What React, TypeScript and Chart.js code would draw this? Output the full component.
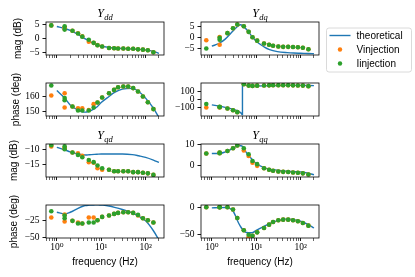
import React, { useEffect, useRef } from 'react';
import { Chart, registerables } from 'chart.js';

Chart.register(...registerables);

// ---------------- data ----------------
const F_MEAS = [0.75, 1.5, 1.5, 2.25, 3, 3.75, 5.25, 6.75, 8.25, 10.5, 15, 19.5, 24, 31.5, 40.5, 52.5, 67.5, 87, 112.5, 150];
const F_THEORY = [1, 1.5, 2, 3, 4, 4.5, 5, 6, 8, 10, 15, 20, 30, 50, 70, 100, 150, 200];
const F_THEORY_DQ_PHASE = [1, 1.5, 2, 3, 4, 4.5, 4.8, 4.8, 5, 6, 8, 10, 15, 20, 30, 50, 70, 100, 150, 200];

// Y_dd magnitude (dB)
const YDD_MAG_TH = [4.3, 3.6, 2.9, 1.5, 0.3, -0.2, -0.6, -1.3, -2.1, -2.6, -3.1, -3.3, -3.5, -3.7, -3.8, -4.0, -4.5, -5.2];
const YDD_MAG_V = [4.7, 4.0, 3.4, 2.8, 1.9, 0.8, -1.1, -1.5, -2.3, -2.8, -3.3, -3.4, -3.5, -3.5, -3.6, -3.6, -3.8, -3.9, -4.1, -4.8];
const YDD_MAG_I = [4.7, 4.35, 3.2, 2.8, 1.8, 0.7, -0.4, -1.5, -2.35, -2.8, -3.3, -3.4, -3.5, -3.5, -3.6, -3.6, -3.8, -3.9, -4.1, -4.8];

// Y_dq magnitude (dB)
const YDQ_MAG_TH = [-4.1, -2.6, -0.8, 3.0, 5.5, 5.9, 5.2, 3.8, 0.5, -1.8, -4.4, -5.7, -6.6, -7.1, -7.3, -7.4, -7.5, -7.6];
const YDQ_MAG_V = [-1.3, 0.2, -3.4, 2.0, 4.3, 6.0, 5.2, 2.6, 0.1, -1.5, -2.8, -3.4, -3.9, -4.2, -4.4, -4.4, -4.5, -4.6, -4.8, -5.5];
const YDQ_MAG_I = [-5.2, -0.2, -1.1, 2.0, 4.3, 6.0, 5.2, 2.6, 0.1, -1.5, -2.8, -3.4, -3.9, -4.2, -4.4, -4.4, -4.5, -4.6, -4.8, -5.5];

// Y_dd phase (deg)
const YDD_PH_TH = [164, 159, 154.4, 151, 149.6, 149.6, 150, 150.8, 153, 156, 160, 162.7, 164.9, 165.4, 163.3, 158.9, 152.2, 146];
const YDD_PH_V = [160.7, 162.2, 152.7, 153.3, 152.2, 152.2, 151, 154.9, 156, 159.3, 162.2, 164.4, 166.2, 166.7, 166.7, 165.6, 163.3, 160, 156.2, 151.6];
const YDD_PH_I = [167.3, 159, 157.5, 153.3, 150.7, 150.7, 150.7, 152.7, 156, 159.3, 162.2, 164.4, 166.2, 166.7, 166.7, 165.6, 163.3, 160, 156.2, 151.6];

// Y_dq phase (deg)
const YDQ_PH_TH = [-65, -80, -94, -115, -140, -160, -180, 180, 177, 170, 164, 162, 163, 165, 167, 169, 169, 169, 168, 167];
const YDQ_PH_V = [-96, -90, -95, -108, -129, -152, 183, 167, 163, 166, 168, 170, 172, 172, 172, 172, 170, 168, 167, 160];
const YDQ_PH_I = [-54, -87, -92, -108, -129, -152, 183, 167, 163, 166, 168, 170, 172, 172, 172, 172, 170, 168, 167, 160];

// Y_qd magnitude (dB)
const YQD_MAG_TH = [-9.2, -10, -10.7, -11.4, -11.7, -11.75, -11.7, -11.6, -11.5, -11.4, -11.4, -11.4, -11.4, -11.6, -12, -12.5, -13.4, -14.2];
const YQD_MAG_V = [-8.9, -9.3, -9.6, -10.9, -11.2, -12.0, -14.1, -14.3, -16.1, -16.6, -16.6, -17.1, -17.1, -17.1, -17.1, -17.4, -17.4, -17.6, -17.8, -18.3];
const YQD_MAG_I = [-8.5, -8.9, -9.8, -10.9, -11.7, -12.5, -13.4, -14.1, -15.2, -16.1, -16.6, -17.1, -17.1, -17.1, -17.1, -17.4, -17.4, -17.6, -17.8, -18.3];

// Y_qq magnitude (dB)
const YQQ_MAG_TH = [5.8, 5.8, 6.5, 8.2, 9.5, 9.4, 8.9, 6.2, 3.1, 1.1, -0.8, -1.5, -2.0, -2.5, -2.7, -2.8, -3.4, -4.2];
const YQQ_MAG_V = [5.8, 6.2, 5.9, 6.9, 8.2, 9.5, 7.2, 4.6, 1.5, 0.0, -1.1, -1.8, -2.3, -2.6, -2.8, -2.9, -3.1, -3.2, -3.5, -4.0];
const YQQ_MAG_I = [5.8, 6.2, 5.9, 6.9, 8.2, 9.5, 8.2, 5.4, 2.3, 0.8, -1.1, -1.8, -2.3, -2.6, -2.8, -2.9, -3.1, -3.2, -3.5, -4.0];

// Y_qd phase (deg)
const YQD_PH_TH = [-12, -14.5, -12, -6, -2.5, -1.8, -1.3, -0.8, -0.5, -0.8, -2.6, -4.5, -7.8, -13, -18, -25, -40, -54];
const YQD_PH_V = [-20, -15.5, -26, -25, -27.5, -29, -20, -20, -24, -19, -17, -14.5, -13, -12, -12, -13, -17, -21, -24, -27.5];
const YQD_PH_I = [-10.5, -17, -21, -25, -29, -29, -27.5, -27.5, -24, -19, -17, -14.5, -13, -12, -12, -13, -16, -21, -24, -27.5];

// Y_qq phase (deg)
const YQQ_PH_TH = [-1.2, -0.8, -0.6, -7, -28.7, -36, -41, -46, -46.5, -42, -34.8, -30, -24.4, -21.3, -22.6, -25.6, -31.7, -37.8];
const YQQ_PH_V = [0, 0, 0, 0, -4.3, -19.5, -42, -54, -52, -45.7, -37.8, -31.7, -26.8, -23.8, -22.6, -22.6, -23.8, -25.6, -28.7, -33.5];
const YQQ_PH_I = [0, 0, 0, 0, -4.3, -19.5, -42, -50, -52, -45.7, -37.8, -31.7, -26.8, -23.8, -22.6, -22.6, -23.8, -25.6, -28.7, -33.5];

// tick values
const X_MAJOR = [1, 10, 100];
const X_MINOR = [0.6, 0.7, 0.8, 0.9, 2, 3, 4, 5, 6, 7, 8, 9, 20, 30, 40, 50, 60, 70, 80, 90, 200];
const X_MAJOR_LABELS = ['10\u2070', '10\u00b9', '10\u00b2'];
const YDD_MAG_TICKS = [-5, 0, 5];
const YDQ_MAG_TICKS = [-5, 0, 5];
const YDD_PH_TICKS = [150, 160];
const YDQ_PH_TICKS = [-100, 0, 100];
const YQD_MAG_TICKS = [-15, -10];
const YQQ_MAG_TICKS = [0, 10];
const YQD_PH_TICKS = [-50, -25];
const YQQ_PH_TICKS = [-50, 0];

const SERIES_LABELS = ['theoretical', 'Vinjection', 'Iinjection'];

// ---------------- styling / layout ----------------
const BLUE = '#1f77b4';
const ORANGE = '#ff7f0e';
const GREEN = '#2ca02c';
const SERIF = '"Liberation Serif", "DejaVu Serif", serif';
const SANS = '"Liberation Sans", "DejaVu Sans", sans-serif';
const X_MIN = 0.57;
const X_MAX = 260;
const COL_LEFT = [46, 201];
const ROW_TOP = [22, 83, 144, 205];
const PLOT_W = 118;
const PLOT_H = 33;
const Y_AXIS_W = 45;
const TOP_PAD = 20;

type PanelDef = {
  row: number; col: number; sub: string; ylabel: string; ylabelPad: number;
  fth: number[]; th: number[]; v: number[]; i: number[]; ticks: number[];
  min: number; max: number; jump?: boolean;
};

const PANELS: PanelDef[] = [
  { row: 0, col: 0, sub: 'dd', ylabel: 'mag (dB)', ylabelPad: 11, fth: F_THEORY, th: YDD_MAG_TH, v: YDD_MAG_V, i: YDD_MAG_I, ticks: YDD_MAG_TICKS, min: -5.8, max: 5.9 },
  { row: 0, col: 1, sub: 'dq', ylabel: '', ylabelPad: 0, fth: F_THEORY, th: YDQ_MAG_TH, v: YDQ_MAG_V, i: YDQ_MAG_I, ticks: YDQ_MAG_TICKS, min: -8.2, max: 7.2 },
  { row: 1, col: 0, sub: '', ylabel: 'phase (deg)', ylabelPad: 9, fth: F_THEORY, th: YDD_PH_TH, v: YDD_PH_V, i: YDD_PH_I, ticks: YDD_PH_TICKS, min: 147, max: 169 },
  { row: 1, col: 1, sub: '', ylabel: '', ylabelPad: 0, fth: F_THEORY_DQ_PHASE, th: YDQ_PH_TH, v: YDQ_PH_V, i: YDQ_PH_I, ticks: YDQ_PH_TICKS, min: -198, max: 198, jump: true },
  { row: 2, col: 0, sub: 'qd', ylabel: 'mag (dB)', ylabelPad: 7, fth: F_THEORY, th: YQD_MAG_TH, v: YQD_MAG_V, i: YQD_MAG_I, ticks: YQD_MAG_TICKS, min: -19, max: -8.1 },
  { row: 2, col: 1, sub: 'qq', ylabel: '', ylabelPad: 0, fth: F_THEORY, th: YQQ_MAG_TH, v: YQQ_MAG_V, i: YQQ_MAG_I, ticks: YQQ_MAG_TICKS, min: -5.2, max: 10.2 },
  { row: 3, col: 0, sub: '', ylabel: 'phase (deg)', ylabelPad: 7, fth: F_THEORY, th: YQD_PH_TH, v: YQD_PH_V, i: YQD_PH_I, ticks: YQD_PH_TICKS, min: -51, max: -1 },
  { row: 3, col: 1, sub: '', ylabel: '', ylabelPad: 0, fth: F_THEORY, th: YQQ_PH_TH, v: YQQ_PH_V, i: YQQ_PH_I, ticks: YQQ_PH_TICKS, min: -56, max: 4 },
];

function fmt(v: number): string {
  return v < 0 ? '\u2212' + Math.abs(v) : String(v);
}

function Panel({ p }: { p: PanelDef }) {
  const ref = useRef<HTMLCanvasElement>(null);
  const isBottom = p.row === 3;
  const isLegend = p.row === 0 && p.col === 1;
  const padRight = isLegend ? 415 - (COL_LEFT[1] + PLOT_W) : 5;
  const bottomH = isBottom ? 30 : 8;
  const extraBottom = isBottom ? 0 : 20;
  const W = Y_AXIS_W + PLOT_W + padRight;
  const H = TOP_PAD + PLOT_H + bottomH + extraBottom;
  const left = COL_LEFT[p.col] - Y_AXIS_W;
  const top = ROW_TOP[p.row] - TOP_PAD;

  useEffect(() => {
    if (!ref.current) return;
    const framePlugin = {
      id: 'frame',
      afterDatasetsDraw(chart: any) {
        const { ctx, chartArea: a } = chart;
        ctx.save();
        ctx.strokeStyle = '#000';
        ctx.lineWidth = 0.8;
        ctx.strokeRect(a.left, a.top, a.right - a.left, a.bottom - a.top);
        ctx.restore();
      },
    };
    const titlePlugin = {
      id: 'subtitleY',
      afterDraw(chart: any) {
        if (!p.sub) return;
        const { ctx, chartArea: a } = chart;
        ctx.save();
        ctx.fillStyle = '#000';
        ctx.textBaseline = 'alphabetic';
        ctx.font = `italic 12px ${SERIF}`;
        const wY = ctx.measureText('Y').width;
        ctx.font = `italic 8.5px ${SERIF}`;
        const wS = ctx.measureText(p.sub).width;
        const x0 = (a.left + a.right) / 2 - (wY + wS + 0.5) / 2;
        const yb = a.top - 5;
        ctx.font = `italic 12px ${SERIF}`;
        ctx.fillText('Y', x0, yb);
        ctx.font = `italic 8.5px ${SERIF}`;
        ctx.fillText(p.sub, x0 + wY + 0.5, yb + 2.5);
        ctx.restore();
      },
    };
    const legendPlugin = {
      id: 'legendBox',
      afterDraw(chart: any) {
        const { ctx, chartArea: a } = chart;
        const ds = chart.data.datasets;
        const bx = a.right + 7.5;
        const by = a.top + 6;
        const bw = 85;
        const bh = 44;
        ctx.save();
        ctx.beginPath();
        const r = 2.5;
        ctx.moveTo(bx + r, by);
        ctx.lineTo(bx + bw - r, by);
        ctx.arcTo(bx + bw, by, bx + bw, by + r, r);
        ctx.lineTo(bx + bw, by + bh - r);
        ctx.arcTo(bx + bw, by + bh, bx + bw - r, by + bh, r);
        ctx.lineTo(bx + r, by + bh);
        ctx.arcTo(bx, by + bh, bx, by + bh - r, r);
        ctx.lineTo(bx, by + r);
        ctx.arcTo(bx, by, bx + r, by, r);
        ctx.closePath();
        ctx.fillStyle = 'rgba(255,255,255,0.8)';
        ctx.fill();
        ctx.strokeStyle = '#d0d0d0';
        ctx.lineWidth = 0.8;
        ctx.stroke();
        ctx.font = `10px ${SANS}`;
        ctx.textBaseline = 'middle';
        ctx.textAlign = 'left';
        ds.forEach((d: any, k: number) => {
          const yy = by + 7.5 + k * 14;
          if (k === 0) {
            ctx.strokeStyle = d.borderColor;
            ctx.lineWidth = 1.4;
            ctx.beginPath();
            ctx.moveTo(bx + 3, yy);
            ctx.lineTo(bx + 24, yy);
            ctx.stroke();
          } else {
            ctx.fillStyle = d.backgroundColor;
            ctx.beginPath();
            ctx.arc(bx + 13.5, yy, 2.2, 0, Math.PI * 2);
            ctx.fill();
          }
          ctx.fillStyle = '#000';
          ctx.fillText(d.label, bx + 30, yy + 0.5);
        });
        ctx.restore();
      },
    };

    const tickFont = { family: SERIF, size: 9.5 };
    const labelFont = { family: SANS, size: 10, lineHeight: 1.2 };
    const chart = new Chart(ref.current, {
      type: 'scatter',
      data: {
        datasets: [
          {
            label: SERIES_LABELS[0],
            data: p.fth.map((x, k) => ({ x, y: p.th[k] })),
            showLine: true,
            borderColor: BLUE,
            backgroundColor: BLUE,
            borderWidth: 1.4,
            pointRadius: 0,
            tension: 0,
            cubicInterpolationMode: p.jump ? 'default' : 'monotone',
            order: 3,
          },
          {
            label: SERIES_LABELS[1],
            data: F_MEAS.map((x, k) => ({ x, y: p.v[k] })),
            showLine: false,
            backgroundColor: ORANGE,
            borderColor: ORANGE,
            pointRadius: 2.3,
            pointBorderWidth: 0,
            order: 2,
          },
          {
            label: SERIES_LABELS[2],
            data: F_MEAS.map((x, k) => ({ x, y: p.i[k] })),
            showLine: false,
            backgroundColor: GREEN,
            borderColor: GREEN,
            pointRadius: 2.3,
            pointBorderWidth: 0,
            order: 1,
          },
        ],
      } as any,
      options: {
        animation: false,
        responsive: false,
        maintainAspectRatio: false,
        layout: { padding: { left: 0, top: TOP_PAD, right: padRight, bottom: extraBottom } },
        plugins: {
          legend: { display: false },
          tooltip: { enabled: false },
          title: { display: false },
        },
        scales: {
          x: {
            type: 'logarithmic',
            position: 'bottom',
            min: X_MIN,
            max: X_MAX,
            afterBuildTicks: (s: any) => {
              s.ticks = [...X_MAJOR, ...X_MINOR]
                .sort((a, b) => a - b)
                .map((v) => ({ value: v, major: X_MAJOR.includes(v) }));
            },
            afterFit: (s: any) => {
              s.height = bottomH;
            },
            ticks: {
              autoSkip: false,
              maxRotation: 0,
              minRotation: 0,
              padding: 1,
              font: tickFont,
              color: '#000',
              callback: (v: any) => {
                const idx = X_MAJOR.indexOf(Number(v));
                return isBottom && idx >= 0 ? X_MAJOR_LABELS[idx] : '';
              },
            },
            grid: {
              drawOnChartArea: false,
              drawTicks: true,
              tickLength: 3,
              tickColor: '#000',
              tickWidth: (c: any) => (c.tick && X_MAJOR.includes(c.tick.value) ? 0.9 : 0.6),
            },
            border: { display: false },
            title: {
              display: isBottom,
              text: 'frequency (Hz)',
              font: labelFont,
              color: '#000',
              padding: 0,
            },
          },
          y: {
            type: 'linear',
            min: p.min,
            max: p.max,
            afterBuildTicks: (s: any) => {
              s.ticks = p.ticks.map((v) => ({ value: v }));
            },
            afterFit: (s: any) => {
              s.width = Y_AXIS_W;
            },
            ticks: {
              padding: 3,
              font: tickFont,
              color: '#000',
              callback: (v: any) => fmt(Number(v)),
            },
            grid: {
              drawOnChartArea: false,
              drawTicks: true,
              tickLength: 3.5,
              tickColor: '#000',
              tickWidth: 0.9,
            },
            border: { display: false },
            title: {
              display: p.col === 0,
              text: p.ylabel,
              font: labelFont,
              color: '#000',
              padding: { top: p.ylabelPad, bottom: 0 },
            },
          },
        },
      } as any,
      plugins: isLegend ? [framePlugin, titlePlugin, legendPlugin] : [framePlugin, titlePlugin],
    });
    return () => chart.destroy();
  }, []);

  return (
    <canvas
      ref={ref}
      width={W}
      height={H}
      style={{ position: 'absolute', left, top, width: W, height: H }}
    />
  );
}

export default function App() {
  useEffect(() => {
    document.body.style.margin = '0';
  }, []);
  return (
    <div style={{ position: 'relative', width: 415, height: 277, background: '#fff', overflow: 'hidden' }}>
      {PANELS.map((p, k) => (
        <Panel key={k} p={p} />
      ))}
    </div>
  );
}
